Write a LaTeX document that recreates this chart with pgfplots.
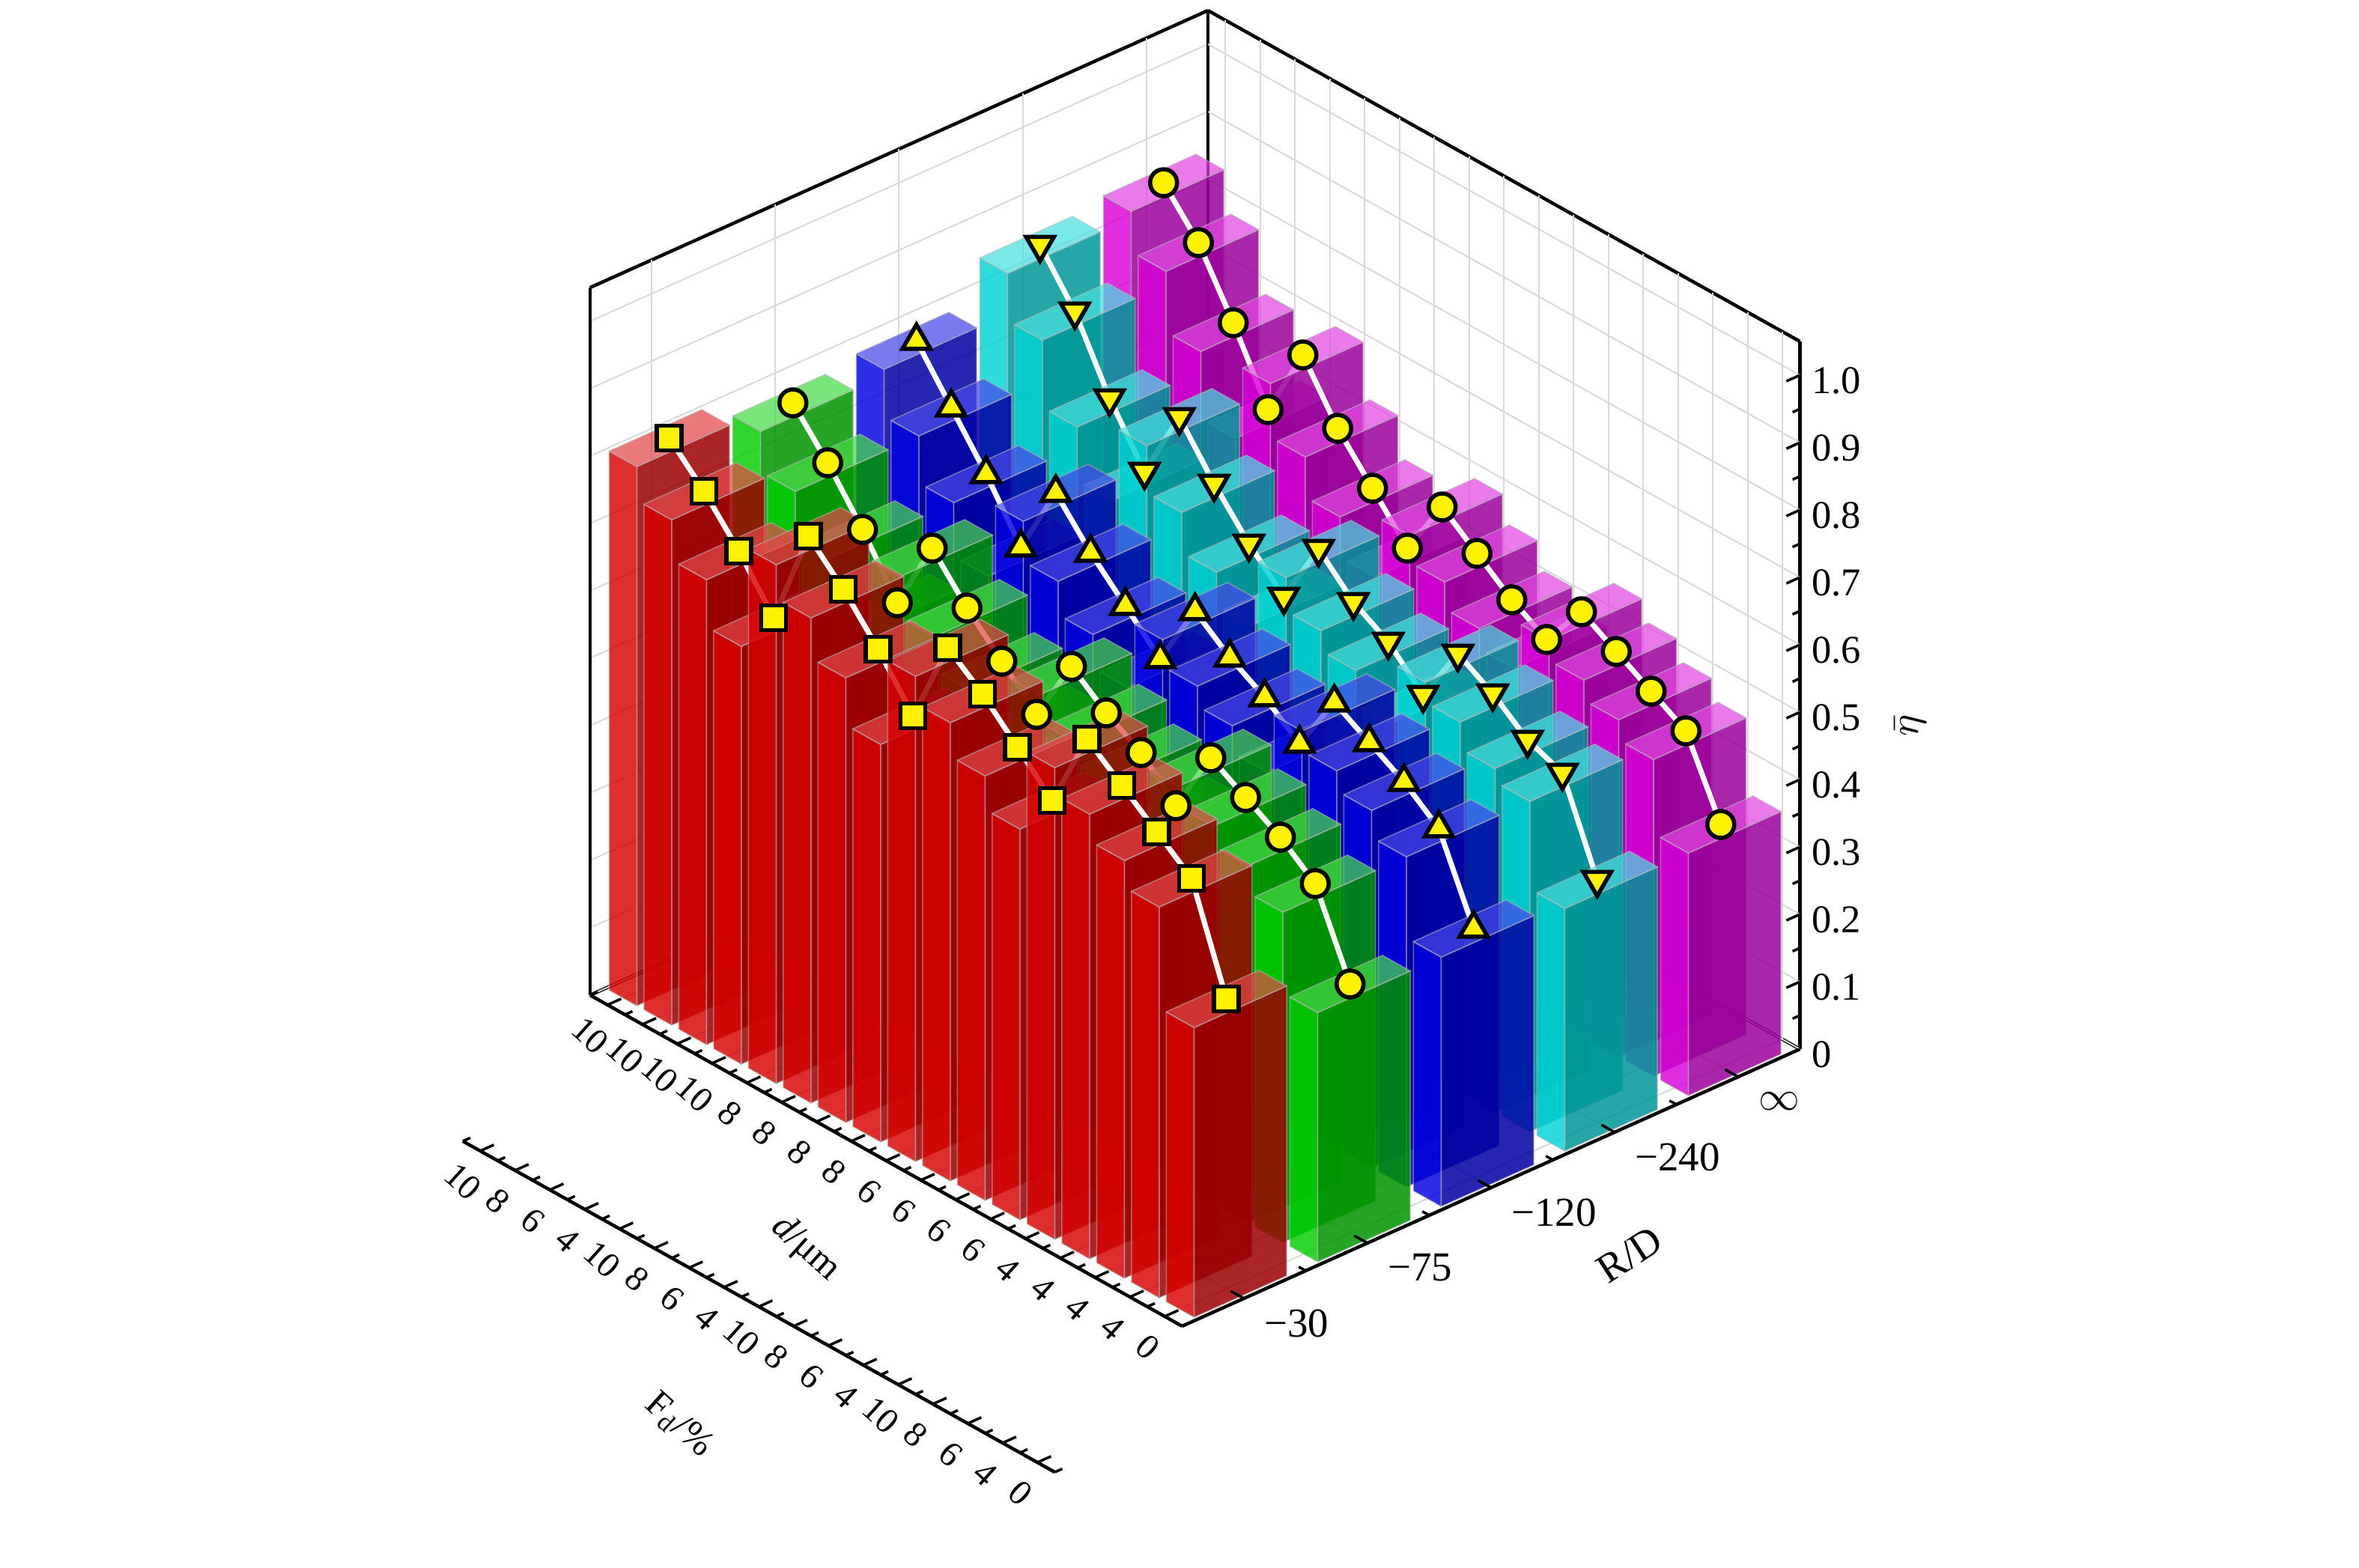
\documentclass[border=0pt]{standalone}
\usepackage{fontspec}
\setmainfont{Liberation Serif}
\usepackage{pgfplots}
\usepackage{pgfplotstable}
\pgfplotsset{compat=1.18}
\usetikzlibrary{calc}

\definecolor{c0}{RGB}{215,0,0}
\definecolor{c1}{RGB}{0,205,0}
\definecolor{c2}{RGB}{0,0,225}
\definecolor{c3}{RGB}{0,210,210}
\definecolor{c4}{RGB}{215,0,215}

% columns: R/D = -30, -75, -120, -240, infinity ; rows: the 17 (d, F_d) cases
\pgfplotstableread{
r0 r1 r2 r3 r4
0.80 0.77 0.78 0.84 0.85
0.75 0.71 0.71 0.77 0.79
0.69 0.64 0.64 0.67 0.70
0.62 0.56 0.56 0.59 0.60
0.77 0.67 0.67 0.70 0.71
0.72 0.61 0.61 0.63 0.63
0.66 0.56 0.56 0.57 0.57
0.59 0.51 0.51 0.52 0.51
0.72 0.61 0.61 0.62 0.60
0.68 0.57 0.57 0.57 0.56
0.63 0.54 0.54 0.54 0.52
0.58 0.49 0.50 0.49 0.49
0.70 0.59 0.59 0.58 0.56
0.66 0.56 0.56 0.55 0.53
0.62 0.53 0.53 0.51 0.50
0.58 0.49 0.49 0.49 0.47
0.43 0.37 0.37 0.36 0.36
}\datatab

\pgfplotsset{
  edgestyle/.style={draw=gray!55, draw opacity=0.55, line width=0.3pt},
  sideface/.style={edgestyle, fill=#1!72!black, fill opacity=0.85},
  frontface/.style={edgestyle, fill=#1, fill opacity=0.82},
  topface/.style={edgestyle, fill=#1!72!white, fill opacity=0.72},
  wline/.style={draw=white, line width=1.4pt, mark=none},
  mark0/.style={only marks, mark=square*, mark size=3.3pt, mark options={fill=yellow, draw=black, line width=1.1pt}},
  mark1/.style={only marks, mark=*, mark size=3.6pt, mark options={fill=yellow, draw=black, line width=1.1pt}},
  mark2/.style={only marks, mark=triangle*, mark size=4.3pt, mark options={fill=yellow, draw=black, line width=1.1pt}},
  mark3/.style={only marks, mark=triangle*, mark size=4.3pt, mark options={fill=yellow, draw=black, line width=1.1pt, rotate=180}},
  mark4/.style={only marks, mark=*, mark size=3.6pt, mark options={fill=yellow, draw=black, line width=1.1pt}},
}

\tikzset{lab/.style={font=\fontsize{10.5}{12}\selectfont, inner sep=0pt},
         xlab/.style={font=\fontsize{9.5}{11}\selectfont, inner sep=0pt, rotate=-42}}

\begin{document}
\begin{tikzpicture}
\begin{axis}[
  x={(9.3pt,-5.2pt)}, y={(33pt,14.8pt)}, z={(0pt,180pt)},
  xmin=0, xmax=17, ymin=0, ymax=5, zmin=0, zmax=1.05,
  xtick={0.5,1.5,...,16.5}, ytick={0.5,1.5,...,4.5}, ztick={0,0.1,...,1.0},
  xticklabels={}, yticklabels={}, zticklabels={},
  major tick length=0pt, minor tick num=0,
  grid=major, major grid style={gray!30, line width=0.4pt},
  axis line style={black, line width=0.9pt},
  clip=false,
]
\coordinate (O) at (axis cs:0,0,0);
\pgfplotsforeachungrouped \k in {4,3,2,1,0}{%
  \pgfplotsforeachungrouped \j in {0,...,16}{%
    \edef\tmp{\noexpand\pgfplotstablegetelem{\j}{[index]\k}\noexpand\of\noexpand\datatab}\tmp
    \let\v=\pgfplotsretval
    \pgfmathsetmacro\xc{\j+0.5}%
    \pgfmathsetmacro\xa{\j+0.1}%
    \pgfmathsetmacro\xb{\j+0.9}%
    \pgfmathsetmacro\ya{\k+0.125}%
    \pgfmathsetmacro\yb{\k+0.875}%
    \pgfmathsetmacro\yc{\k+0.5}%
    \ifnum\j>0
      \edef\cmd{%
        \noexpand\addplot3[wline] coordinates {(\xp,\yc,\vp) (\xc,\yc,\v)};
        \noexpand\addplot3[mark\k] coordinates {(\xp,\yc,\vp)};}%
      \cmd
    \fi
    \edef\cmd{%
      \noexpand\addplot3[sideface=c\k] coordinates {(\xb,\ya,0) (\xb,\yb,0) (\xb,\yb,\v) (\xb,\ya,\v) (\xb,\ya,0)};
      \noexpand\addplot3[frontface=c\k] coordinates {(\xa,\ya,0) (\xb,\ya,0) (\xb,\ya,\v) (\xa,\ya,\v) (\xa,\ya,0)};
      \noexpand\addplot3[topface=c\k] coordinates {(\xa,\ya,\v) (\xb,\ya,\v) (\xb,\yb,\v) (\xa,\yb,\v) (\xa,\ya,\v)};}%
    \cmd
    \ifnum\j=16
      \edef\cmd{\noexpand\addplot3[mark\k] coordinates {(\xc,\yc,\v)};}%
      \cmd
    \fi
    \let\xp=\xc
    \let\vp=\v
  }%
}
\end{axis}

\begin{scope}[shift={(O)}, x={(9.3pt,-5.2pt)}, y={(33pt,14.8pt)}, z={(0pt,180pt)}]
  % d axis ticks
  \foreach \xx in {0.5,1.5,...,16.5} \draw[line width=0.7pt] (\xx,0,0) -- (\xx,0.11,0);
  \foreach \xx in {0,1,...,17} \draw[line width=0.7pt] (\xx,0,0) -- (\xx,0.061,0);
  % F_d axis (second row of labels)
  \begin{scope}[shift={(-34pt,-39pt)}]
    \draw[line width=0.9pt] (0,0,0) -- (17,0,0);
    \foreach \xx in {0.5,1.5,...,16.5} \draw[line width=0.7pt] (\xx,0,0) -- (\xx,0.11,0);
    \foreach \xx in {0,1,...,17} \draw[line width=0.7pt] (\xx,0,0) -- (\xx,0.061,0);
  \end{scope}
  \foreach \xx/\dl/\fl in {0.5/10/10,1.5/10/8,2.5/10/6,3.5/10/4,4.5/8/10,5.5/8/8,6.5/8/6,7.5/8/4,8.5/6/10,9.5/6/8,10.5/6/6,11.5/6/4,12.5/4/10,13.5/4/8,14.5/4/6,15.5/4/4,16.5/0/0}{
    \node[xlab] at ($(\xx,0,0)+(-4.6pt,-8.2pt)$) {\dl};
    \node[xlab] at ($(\xx,0,0)+(-38.6pt,-47.2pt)$) {\fl};
  }
  \node[xlab, font=\fontsize{10}{12}\selectfont] at ($(7.8,0,0)+(-15.1pt,-27.1pt)$) {\textit{d}/μm};
  \node[xlab, font=\fontsize{10}{12}\selectfont] at ($(7.2,0,0)+(-43.3pt,-77.5pt)$) {F\textsubscript{d}/\%};
  % R/D axis
  \foreach \yy in {0.5,1.5,...,4.5} \draw[line width=0.7pt] (17,\yy,0) -- (16.625,\yy,0);
  \foreach \yy in {1,2,3,4} \draw[line width=0.7pt] (17,\yy,0) -- (16.8,\yy,0);
  \foreach \yy/\lab in {0.5/−30,1.5/−75,2.5/−120,3.5/−240,4.5/$\infty$}
    \node[lab, font=\fontsize{11}{13}\selectfont, anchor=west] at ($(17,\yy,0)+(5.2pt,-6.6pt)$) {\lab};
  \node[lab, font=\fontsize{11}{13}\selectfont, rotate=33] at ($(17,3.23,0)+(12.9pt,-28.8pt)$) {R/D};
  % z axis on the right edge
  \foreach \zz/\lab in {0/0,0.1/0.1,0.2/0.2,0.3/0.3,0.4/0.4,0.5/0.5,0.6/0.6,0.7/0.7,0.8/0.8,0.9/0.9,1/1.0}{
    \draw[line width=0.7pt] (17,5,\zz) -- (17,4.89,\zz);
    \node[lab, anchor=west] at ($(17,5,\zz)+(3pt,-1.5pt)$) {\lab};
  }
  \foreach \zz in {0.05,0.15,...,1.0} \draw[line width=0.7pt] (17,5,\zz) -- (17,4.94,\zz);
  \node[lab, rotate=90] at ($(17,5,0.48)+(29.6pt,0pt)$) {$\bar{\eta}$};
\end{scope}

\pgfresetboundingbox
\path[use as bounding box] ($(O)+(-157.6pt,-152.8pt)$) rectangle ($(O)+(472.4pt,265.8pt)$);
\end{tikzpicture}
\end{document}
